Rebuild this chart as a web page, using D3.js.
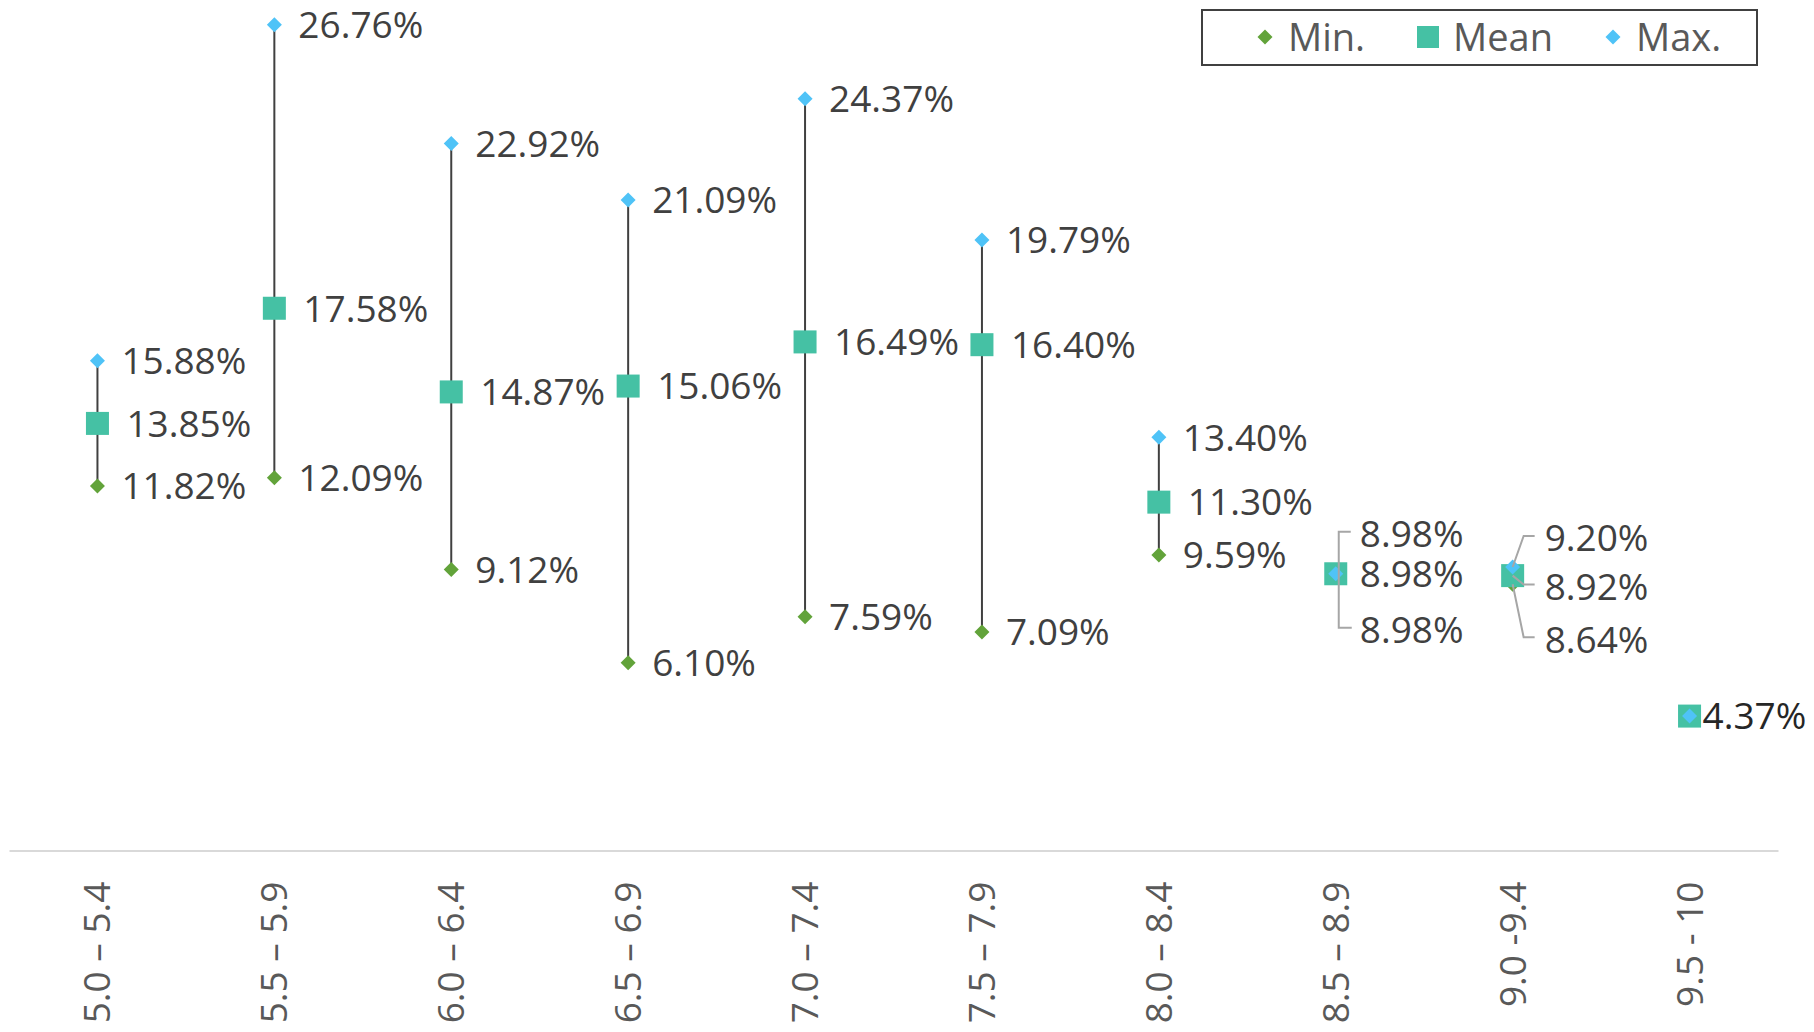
<!DOCTYPE html>
<html>
<head>
<meta charset="utf-8">
<script src="https://cdn.jsdelivr.net/npm/d3@7"></script>
<style>
  body { margin: 0; background: #fff; }
  svg { display: block; font-family: "Open Sans", sans-serif; }
</style>
</head>
<body>
<svg width="1814" height="1032"></svg>
<script>
const categories = ["5.0 \u2013 5.4", "5.5 \u2013 5.9", "6.0 \u2013 6.4", "6.5 \u2013 6.9", "7.0 \u2013 7.4",
                    "7.5 \u2013 7.9", "8.0 \u2013 8.4", "8.5 \u2013 8.9", "9.0 -9.4", "9.5 - 10"];
const minValues  = [11.82, 12.09, 9.12, 6.10, 7.59, 7.09, 9.59, 8.98, 8.64, 4.37];
const meanValues = [13.85, 17.58, 14.87, 15.06, 16.49, 16.40, 11.30, 8.98, 8.92, 4.37];
const maxValues  = [15.88, 26.76, 22.92, 21.09, 24.37, 19.79, 13.40, 8.98, 9.20, 4.37];
const seriesNames = ["Min.", "Mean", "Max."];

const colors = { "Min.": "#62a33a", "Mean": "#45c1a4", "Max.": "#4fc3f7" };

const svg = d3.select("svg");

const x = d3.scaleBand()
            .domain(categories)
            .range([9, 1778])
            .padding(0);

const y = d3.scaleLinear()
            .domain([0, 27.5])
            .range([851, 2]);

const cx = d => x(d) + x.bandwidth() / 2;

// axis
const axis = svg.append("g")
                .attr("transform", "translate(0," + (y(0) - 0.5) + ")")
                .call(d3.axisBottom(x).tickSize(0).tickSizeOuter(0));
axis.select(".domain").attr("stroke", "#d9d9d9").attr("stroke-width", 2);
axis.selectAll(".tick text")
    .attr("transform", "rotate(-90)")
    .attr("x", -31)
    .attr("y", 0)
    .attr("dy", "0.35em")
    .attr("text-anchor", "end")
    .attr("fill", "#595959")
    .attr("font-size", "37px")
    .attr("font-family", "Open Sans, sans-serif");

const rows = categories.map((c, i) => ({
  cat: c, min: minValues[i], mean: meanValues[i], max: maxValues[i]
}));

// high-low lines
svg.append("g")
   .selectAll("line")
   .data(rows)
   .enter()
   .append("line")
   .attr("x1", d => cx(d.cat))
   .attr("x2", d => cx(d.cat))
   .attr("y1", d => y(d.max))
   .attr("y2", d => y(d.min))
   .attr("stroke", "#404040")
   .attr("stroke-width", 2);

const diamond = (r) => "M0," + (-r) + "L" + r + ",0L0," + r + "L" + (-r) + ",0Z";

// markers: min, mean, max
svg.append("g")
   .selectAll("path")
   .data(rows)
   .enter()
   .append("path")
   .attr("d", diamond(7.5))
   .attr("transform", d => "translate(" + cx(d.cat) + "," + y(d.min) + ")")
   .attr("fill", colors["Min."]);

svg.append("g")
   .selectAll("rect")
   .data(rows)
   .enter()
   .append("rect")
   .attr("x", d => cx(d.cat) - 11.5)
   .attr("y", d => y(d.mean) - 11.5)
   .attr("width", 23)
   .attr("height", 23)
   .attr("fill", colors["Mean"]);

svg.append("g")
   .selectAll("path")
   .data(rows)
   .enter()
   .append("path")
   .attr("d", diamond(7.5))
   .attr("transform", d => "translate(" + cx(d.cat) + "," + y(d.max) + ")")
   .attr("fill", colors["Max."]);

// data labels; crowded categories get shifted labels with leader lines
const labelShift = {
  "8.5 \u2013 8.9": { max: -40, mean: 0, min: 56, dx: 24 },
  "9.0 -9.4":       { max: -29, mean: 11, min: 55, dx: 32 }
};

const labels = [];
rows.forEach(d => {
  const s = labelShift[d.cat];
  if (d.min === d.max && d.min === d.mean && !s) {
    labels.push({ cat: d.cat, key: "mean", v: d.mean, x: cx(d.cat) + 13, y: y(d.mean), dark: true });
    return;
  }
  ["max", "mean", "min"].forEach(k => {
    const gap = k === "mean" ? 29 : 24;
    labels.push({
      cat: d.cat, key: k, v: d[k],
      x: cx(d.cat) + (s ? s.dx : gap),
      y: y(d[k]) + (s ? s[k] : 0),
      shifted: !!s
    });
  });
});

// leader lines
const leaders = svg.append("g")
                   .attr("fill", "none")
                   .attr("stroke", "#a6a6a6")
                   .attr("stroke-width", 2);

rows.filter(d => labelShift[d.cat]).forEach(d => {
  const mx = cx(d.cat);
  const ls = labels.filter(l => l.cat === d.cat);
  if (d.min === d.max) {
    const top = ls.find(l => l.key === "max"), bot = ls.find(l => l.key === "min");
    leaders.append("path")
           .attr("d", "M" + (top.x - 9) + "," + (top.y - 2) + "H" + (mx + 3) + "V" + (bot.y - 2) + "H" + (bot.x - 8));
  } else {
    ls.forEach(l => {
      leaders.append("path")
             .attr("d", "M" + (l.x - 10) + "," + (l.y - 2) + "H" + (l.x - 21) + "L" + mx + "," + y(l.v));
    });
  }
});

svg.append("g")
   .selectAll("text")
   .data(labels)
   .enter()
   .append("text")
   .attr("x", d => d.x)
   .attr("y", d => d.y)
   .attr("dy", "0.36em")
   .attr("font-size", "37px")
   .attr("fill", d => d.dark ? "#262626" : "#404040")
   .text(d => d.v.toFixed(2) + "%");

// legend
const legend = svg.append("g");
legend.append("rect")
      .attr("x", 1202)
      .attr("y", 10)
      .attr("width", 555)
      .attr("height", 55)
      .attr("fill", "#fff")
      .attr("stroke", "#404040")
      .attr("stroke-width", 2);

const legendX = d3.scaleOrdinal().domain(seriesNames).range([1265, 1428, 1613]);

const item = legend.selectAll("g")
                   .data(seriesNames)
                   .enter()
                   .append("g")
                   .attr("transform", d => "translate(" + legendX(d) + ",37)");

item.append("path")
    .attr("d", d => d === "Mean" ? "M-11,-11H11V11H-11Z" : diamond(7.5))
    .attr("fill", d => colors[d]);

item.append("text")
    .attr("x", d => d === "Mean" ? 25 : 23)
    .attr("dy", "0.36em")
    .attr("font-size", "38px")
    .attr("fill", "#595959")
    .text(d => d);
</script>
</body>
</html>
